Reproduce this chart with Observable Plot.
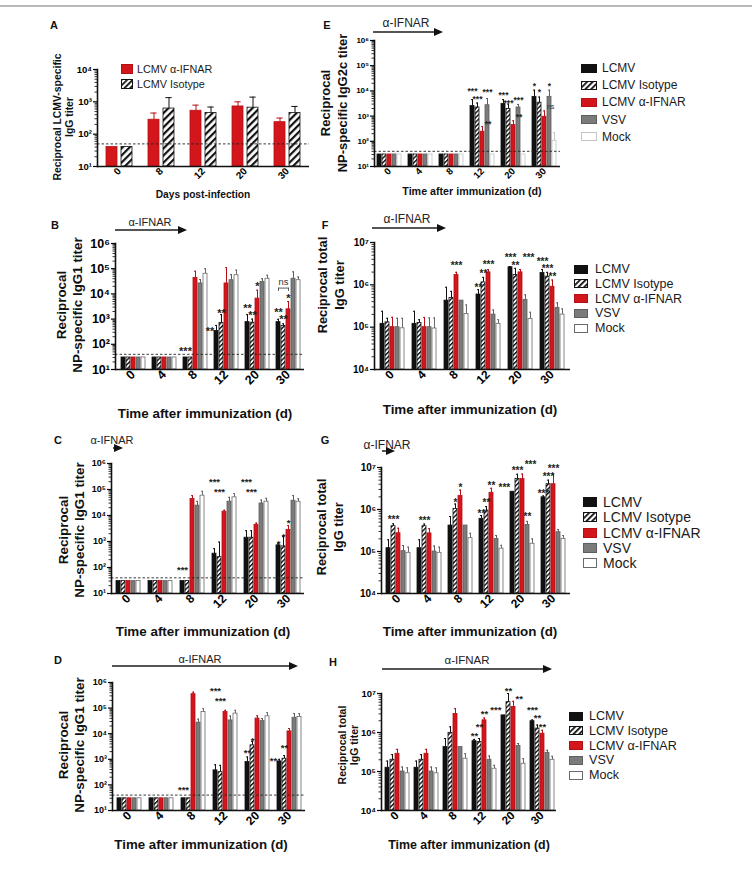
<!DOCTYPE html>
<html>
<head>
<meta charset="utf-8">
<script src="https://cdn.jsdelivr.net/npm/d3@7"></script>
<script src="https://cdn.jsdelivr.net/npm/@observablehq/plot@0.6"></script>
<style>
  html, body { margin: 0; padding: 0; background: #fff; }
  #fig { position: relative; width: 752px; height: 869px; overflow: hidden; background: #fff; }
</style>
</head>
<body>
<div id="fig"></div>
<script>
// ---------- categories ----------
const days = ["0", "4", "8", "12", "20", "30"];
const daysA = ["0", "8", "12", "20", "30"];
const groups = ["LCMV", "LCMV Isotype", "LCMV α-IFNAR", "VSV", "Mock"];
const groupsA = ["LCMV α-IFNAR", "LCMV Isotype"];

// ---------- A: LCMV-specific IgG (rows follow groupsA) ----------
const titerA = [
  [40, 280, 530, 720, 235],
  [40, 620, 450, 660, 450]
];
const errA = [
  [null, 450, 790, 1000, 315],
  [null, 1350, 690, 1400, 720]
];

// ---------- B: NP-specific IgG1 (rows follow groups) ----------
const titerB = [
  [30, 30, 30, 340, 760, 760],
  [30, 30, 30, 700, 720, 530],
  [30, 30, 43000, 26000, 6500, 2450],
  [30, 30, 26000, 35000, 30000, 40000],
  [30, 30, 63000, 55000, 40000, 35000]
];
const errB = [
  [null, null, null, 560, 1500, 980],
  [null, null, null, 1500, 1000, 650],
  [null, null, 79000, 110000, 14000, 5000],
  [null, null, 37000, 58000, 40000, 75000],
  [null, null, 100000, 88000, 55000, 47000]
];

// ---------- C: NP-specific IgG1 ----------
const titerC = [
  [30, 30, 30, 340, 1400, 710],
  [30, 30, 30, 250, 1400, 650],
  [30, 30, 43000, 14000, 4400, 2800],
  [30, 30, 24000, 34000, 29000, 37000],
  [30, 30, 58000, 50000, 34000, 34000]
];
const errC = [
  [null, null, null, 530, 2600, 820],
  [null, null, null, 950, 2600, 1550],
  [null, null, 58000, 16000, 5100, 4100],
  [null, null, 35000, 50000, 39000, 58000],
  [null, null, 85000, 70000, 46000, 44000]
];

// ---------- D: NP-specific IgG1 ----------
const titerD = [
  [30, 30, 30, 370, 780, 830],
  [30, 30, 30, 315, 3500, 1050],
  [30, 30, 350000, 70000, 39000, 12300],
  [30, 30, 27000, 33000, 31000, 42000],
  [30, 30, 70000, 61000, 48000, 45000]
];
const errD = [
  [null, null, null, 610, 1230, 1000],
  [null, null, null, 580, 5000, 1400],
  [null, null, 420000, 82000, 50000, 16000],
  [null, null, 37000, 49000, 39000, 61000],
  [null, null, 95000, 82000, 66000, 61000]
];

// ---------- E: NP-specific IgG2c ----------
const titerE = [
  [30, 30, 30, 2500, 3000, 5800],
  [30, 30, 30, 2200, 1900, 3400],
  [30, 30, 30, 240, 440, 940],
  [30, 30, 30, 2700, 2200, 5800],
  [30, 30, 30, 30, 30, 105]
];
const errE = [
  [null, null, null, 4500, 4500, 10700],
  [null, null, null, 3300, 3000, 5700],
  [null, null, null, 380, 650, 1600],
  [null, null, null, 5000, 2900, 10700],
  [null, null, null, null, null, 220]
];

// ---------- F: total IgG ----------
const titerF = [
  [120000, 120000, 424000, 590000, 2.6e6, 1.9e6],
  [130000, 125000, 490000, 1.14e6, 1.7e6, 1.56e6],
  [100000, 100000, 1.7e6, 1.97e6, 1.97e6, 900000],
  [100000, 100000, 424000, 198000, 440000, 285000],
  [94000, 93000, 205000, 120000, 157000, 198000]
];
const errF = [
  [237000, 237000, 875000, 770000, 2.7e6, 2.3e6],
  [162000, 150000, 700000, 1.5e6, 2.45e6, 1.97e6],
  [171000, 170000, 1.98e6, 2.3e6, 2.3e6, 1.3e6],
  [162000, 165000, null, 255000, 580000, 375000],
  [162000, 165000, 335000, 150000, 225000, 270000]
];

// ---------- G: total IgG ----------
const titerG = [
  [120000, 120000, 415000, 600000, 2.65e6, 1.95e6],
  [400000, 400000, 1.03e6, 940000, 5.3e6, 4e6],
  [272000, 270000, 2.1e6, 2.5e6, 5.3e6, 4e6],
  [102000, 100000, 415000, 200000, 430000, 288000],
  [93000, 93000, 208000, 117000, 153000, 200000]
];
const errG = [
  [190000, 190000, 680000, 720000, null, 2.1e6],
  [455000, 450000, 1.35e6, 1.17e6, 6.9e6, 5e6],
  [358000, 350000, 2.9e6, 3.2e6, 7e6, 6.9e6],
  [139000, 135000, null, 240000, 520000, 333000],
  [127000, 127000, 272000, 140000, 200000, 240000]
];

// ---------- H: total IgG ----------
const titerH = [
  [125000, 125000, 425000, 600000, 2.75e6, 1.95e6],
  [200000, 200000, 980000, 570000, 6e6, 1.26e6],
  [285000, 285000, 3e6, 2.05e6, 4.5e6, 930000],
  [100000, 100000, 425000, 200000, 450000, 300000],
  [90000, 90000, 213000, 118000, 158000, 200000]
];
const errH = [
  [185000, 185000, 700000, 665000, null, 2.1e6],
  [270000, 270000, 1.4e6, 700000, 1e7, 1.55e6],
  [370000, 370000, 4.1e6, 2.35e6, 6.3e6, 1.14e6],
  [130000, 130000, null, 250000, 520000, 350000],
  [124000, 124000, 285000, 144000, 213000, 245000]
];

// ---------- significance marks: [day, group, text, titer where it sits, side] ----------
const starsB = [
  ["8", "LCMV", "***", 66, "c"],
  ["12", "LCMV", "**", 420, "l"],
  ["12", "LCMV Isotype", "**", 2300, "c"],
  ["20", "LCMV", "**", 3500, "c"],
  ["20", "LCMV Isotype", "**", 1800, "c"],
  ["20", "LCMV α-IFNAR", "*", 26000, "c"],
  ["30", "LCMV", "**", 2400, "c"],
  ["30", "LCMV Isotype", "**", 1300, "c"],
  ["30", "LCMV α-IFNAR", "*", 8700, "c"],
  ["30", "LCMV Isotype", "ns", 30000, "c"]
];
const bracketsB = [["30", "LCMV", "LCMV α-IFNAR", 17000]];
const starsC = [
  ["8", "LCMV", "***", 100, "c"],
  ["12", "LCMV", "***", 250000, "c"],
  ["12", "LCMV Isotype", "***", 105000, "c"],
  ["20", "LCMV", "***", 250000, "c"],
  ["20", "LCMV Isotype", "***", 105000, "c"],
  ["30", "LCMV", "*", 1050, "c"],
  ["30", "LCMV Isotype", "*", 1900, "c"],
  ["30", "LCMV α-IFNAR", "*", 6700, "c"]
];
const starsD = [
  ["8", "LCMV", "***", 82, "c"],
  ["12", "LCMV", "***", 620000, "c"],
  ["12", "LCMV Isotype", "***", 250000, "c"],
  ["20", "LCMV", "**", 2240, "c"],
  ["20", "LCMV Isotype", "*", 6500, "c"],
  ["30", "LCMV", "**", 1100, "l"],
  ["30", "LCMV Isotype", "**", 3500, "c"]
];
const starsE = [
  ["12", "LCMV", "***", 12300, "c"],
  ["12", "LCMV Isotype", "***", 5750, "c"],
  ["12", "LCMV α-IFNAR", "**", 600, "r"],
  ["12", "VSV", "***", 11200, "c"],
  ["20", "LCMV", "***", 8300, "c"],
  ["20", "LCMV Isotype", "***", 4000, "c"],
  ["20", "LCMV α-IFNAR", "**", 1100, "r"],
  ["20", "VSV", "***", 5500, "c"],
  ["30", "LCMV", "*", 18200, "c"],
  ["30", "LCMV Isotype", "*", 11200, "c"],
  ["30", "LCMV α-IFNAR", "ns", 2300, "r"],
  ["30", "VSV", "*", 18200, "c"]
];
const starsF = [
  ["8", "LCMV α-IFNAR", "***", 3.2e6, "c"],
  ["12", "LCMV", "**", 1e6, "c"],
  ["12", "LCMV Isotype", "**", 2.1e6, "c"],
  ["12", "LCMV α-IFNAR", "***", 3.4e6, "c"],
  ["20", "LCMV", "***", 5e6, "c"],
  ["20", "LCMV Isotype", "**", 3.2e6, "c"],
  ["20", "LCMV α-IFNAR", "***", 5e6, "r"],
  ["30", "LCMV", "***", 4.1e6, "c"],
  ["30", "LCMV Isotype", "***", 2.75e6, "c"],
  ["30", "LCMV α-IFNAR", "**", 1.8e6, "c"]
];
const starsG = [
  ["0", "LCMV Isotype", "***", 680000, "c"],
  ["4", "LCMV Isotype", "***", 630000, "c"],
  ["8", "LCMV Isotype", "*", 1.7e6, "c"],
  ["8", "LCMV α-IFNAR", "*", 3.9e6, "c"],
  ["12", "LCMV", "**", 900000, "c"],
  ["12", "LCMV Isotype", "**", 1.7e6, "c"],
  ["12", "LCMV α-IFNAR", "**", 4.2e6, "c"],
  ["20", "LCMV", "***", 3.9e6, "l"],
  ["20", "LCMV Isotype", "***", 1e7, "c"],
  ["20", "LCMV α-IFNAR", "***", 1.35e7, "r"],
  ["20", "VSV", "**", 800000, "c"],
  ["30", "LCMV", "***", 2.8e6, "c"],
  ["30", "LCMV Isotype", "***", 6.9e6, "c"],
  ["30", "LCMV α-IFNAR", "***", 1.1e7, "c"]
];
const starsH = [
  ["12", "LCMV", "**", 980000, "c"],
  ["12", "LCMV Isotype", "**", 1.6e6, "c"],
  ["12", "LCMV α-IFNAR", "**", 3.4e6, "c"],
  ["20", "LCMV", "***", 4.4e6, "l"],
  ["20", "LCMV Isotype", "**", 1.35e7, "c"],
  ["20", "LCMV α-IFNAR", "**", 8.3e6, "r"],
  ["30", "LCMV", "***", 4.4e6, "c"],
  ["30", "LCMV Isotype", "**", 2.7e6, "c"],
  ["30", "LCMV α-IFNAR", "**", 1.6e6, "c"]
];

// ---------- styling ----------
const FONT = "'Liberation Sans', Arial, Helvetica, sans-serif";
const STYLE = {
  "LCMV": {fill: "#111", stroke: "#111"},
  "LCMV Isotype": {fill: "hatch", stroke: "#111"},
  "LCMV α-IFNAR": {fill: "#d3161c", stroke: "#b51016"},
  "VSV": {fill: "#7b7b7b", stroke: "#5e5e5e"},
  "Mock": {fill: "#fff", stroke: "#6a6a6a"}
};
const SUP = "⁰¹²³⁴⁵⁶⁷⁸⁹";
const pow10 = v => "10" + SUP[Math.round(Math.log10(v))];
const fig = document.getElementById("fig");

function logTicks(lo, hi) {
  const a = Math.round(Math.log10(lo)), b = Math.round(Math.log10(hi));
  const majors = d3.range(a, b + 1).map(e => 10 ** e);
  const minors = d3.range(a, b).flatMap(e => d3.range(2, 10).map(m => m * 10 ** e));
  return {majors, minors};
}

function patternMarkup(id, size, stripe) {
  return `<pattern id="${id}" patternUnits="userSpaceOnUse" width="${size}" height="${size}" patternTransform="rotate(45)">` +
    `<rect width="${size}" height="${size}" fill="#fff"/><rect width="${stripe}" height="${size}" fill="#111"/></pattern>`;
}

function addPattern(svg, id, size, stripe) {
  const defs = document.createElementNS("http://www.w3.org/2000/svg", "defs");
  defs.innerHTML = patternMarkup(id, size, stripe);
  svg.insertBefore(defs, svg.firstChild);
}

function panel(p) {
  const W = p.right - p.left, H = p.bottom - p.top;
  const M = {l: 36, r: 8, t: 12, b: 30};
  const dims = {width: W + M.l + M.r, height: H + M.t + M.b, marginLeft: M.l, marginRight: M.r, marginTop: M.t, marginBottom: M.b};
  const css = `position:absolute;left:${p.left - M.l}px;top:${p.top - M.t}px;background:none;max-width:none;overflow:visible;font-family:${FONT};`;
  const step = W / p.days.length;
  const groupW = step * (1 - p.pad);
  const bw = groupW / (p.groups.length - p.barPad) * (1 - p.barPad);
  const rows = p.groups.flatMap((g, gi) => p.days.map((d, di) => ({day: d, group: g, value: p.titer[gi][di], err: p.err[gi][di]})));
  const hatchId = `hatch-${p.id}`;

  const marks = [];
  for (const g of p.groups) {
    const s = STYLE[g];
    const stroke = g === "Mock" && p.mockStroke ? p.mockStroke : s.stroke;
    const gr = rows.filter(r => r.group === g);
    const withErr = gr.filter(r => r.err != null);
    marks.push(Plot.ruleX(withErr, {fx: "day", x: "group", y1: "value", y2: "err", stroke, strokeWidth: 1}));
    marks.push(Plot.tickY(withErr, {fx: "day", x: "group", y: "err", stroke, strokeWidth: 1, insetLeft: bw * 0.22, insetRight: bw * 0.22}));
    marks.push(Plot.barY(gr, {
      fx: "day", x: "group", y1: () => p.lo, y2: "value",
      fill: s.fill === "hatch" ? `url(#${hatchId})` : s.fill,
      stroke, strokeWidth: 0.8
    }));
  }

  // significance labels sit centred on a bar, or just to its left/right
  const stars = (p.stars || []).map(([day, group, text, at, side]) => ({day, group, text, at, side}));
  const sides = {c: {textAnchor: "middle", dx: 0}, l: {textAnchor: "end", dx: -bw / 2}, r: {textAnchor: "start", dx: bw / 2}};
  for (const side of Object.keys(sides)) {
    const ast = stars.filter(s => s.side === side && s.text.includes("*"));
    const other = stars.filter(s => s.side === side && !s.text.includes("*"));
    marks.push(Plot.text(ast, {fx: "day", x: "group", y: "at", text: "text", fontSize: p.starSize, fontWeight: "bold", dy: p.starSize * 0.28, fill: "#222", ...sides[side]}));
    marks.push(Plot.text(other, {fx: "day", x: "group", y: "at", text: "text", fontSize: p.starSize * 0.85, fill: "#333", ...sides[side]}));
  }
  if (p.brackets) {
    const br = p.brackets.map(([day, a, b, at]) => ({day, a, b, at}));
    const ends = br.flatMap(d => [{day: d.day, group: d.a, at: d.at}, {day: d.day, group: d.b, at: d.at}]);
    marks.push(Plot.link(br, {fx: "day", x1: "a", x2: "b", y1: "at", y2: "at", stroke: "#333", strokeWidth: 0.8}));
    marks.push(Plot.ruleX(ends, {fx: "day", x: "group", y1: "at", y2: d => d.at / 1.35, stroke: "#333", strokeWidth: 0.8}));
  }

  const bars = Plot.plot({
    ...dims, style: css,
    fx: {domain: p.days, paddingInner: p.pad, paddingOuter: p.pad / 2, axis: null, label: null},
    x: {domain: p.groups, paddingInner: p.barPad, paddingOuter: 0, axis: null, label: null},
    y: {type: "log", domain: [p.lo, p.hi], axis: null},
    marks
  });
  addPattern(bars, hatchId, p.hatch[0], p.hatch[1]);
  fig.appendChild(bars);

  // axes, baseline and detection limit
  const {majors, minors} = logTicks(p.lo, p.hi);
  const axisMarks = [];
  if (p.limit) axisMarks.push(Plot.ruleY([p.limit], {stroke: "#222", strokeWidth: 0.9, strokeDasharray: "2.5,2"}));
  axisMarks.push(
    Plot.axisY({ticks: minors, tickSize: 2.5, tickFormat: () => "", strokeWidth: 0.8, label: null}),
    Plot.axisY({ticks: majors, tickSize: 4, tickPadding: 1.5, tickFormat: pow10, fontSize: p.yTick, fontWeight: "bold", strokeWidth: 1.2, label: null}),
    Plot.axisX(p.days, {tickRotate: -45, tickSize: 0, tickPadding: 3, fontSize: p.xTick, fontWeight: "bold", label: null}),
    Plot.ruleY([p.lo], {stroke: "#111", strokeWidth: 1.6}),
    Plot.frame({anchor: "left", stroke: "#111", strokeWidth: 1.6})
  );
  const axes = Plot.plot({
    ...dims, style: css,
    x: {type: "band", domain: p.days, paddingInner: p.pad, paddingOuter: p.pad / 2},
    y: {type: "log", domain: [p.lo, p.hi]},
    marks: axisMarks
  });
  fig.appendChild(axes);
}

// ---------- HTML annotations ----------
function label(text, x, y, o = {}) {
  const el = document.createElement("div");
  el.textContent = text;
  const tx = o.anchor === "start" ? "0" : o.anchor === "end" ? "-100%" : "-50%";
  el.style.cssText = `position:absolute;left:${x}px;top:${y}px;white-space:nowrap;line-height:1;` +
    `font-family:${FONT};font-size:${o.size || 12}px;font-weight:${o.weight || "bold"};color:${o.color || "#111"};` +
    `transform:translate(${tx},-50%)${o.rotate ? ` rotate(${o.rotate}deg)` : ""};`;
  fig.appendChild(el);
}

function arrow(x1, x2, y) {
  const head = 9;
  if (x2 - x1 > head) {
    const line = document.createElement("div");
    line.style.cssText = `position:absolute;left:${x1}px;top:${y - 0.75}px;width:${x2 - x1 - head + 1}px;height:1.5px;background:#555;`;
    fig.appendChild(line);
  }
  const tip = document.createElement("div");
  tip.style.cssText = `position:absolute;left:${x2 - head}px;top:${y - 4}px;width:0;height:0;border-left:${head}px solid #111;border-top:4px solid transparent;border-bottom:4px solid transparent;`;
  fig.appendChild(tip);
}

function legend(items, x, y0, dy, sw, sh, textX, size, id, mockStroke) {
  items.forEach((g, i) => {
    const s = STYLE[g];
    const stroke = g === "Mock" && mockStroke ? mockStroke : s.stroke;
    const y = y0 + i * dy;
    const box = document.createElement("div");
    box.style.cssText = `position:absolute;left:${x}px;top:${y - sh / 2}px;width:${sw}px;height:${sh}px;`;
    const pid = `${id}-${i}`;
    box.innerHTML = `<svg width="${sw}" height="${sh}" style="display:block;overflow:visible"><defs>${patternMarkup(pid, 4, 1.8)}</defs>` +
      `<rect x="0.5" y="0.5" width="${sw - 1}" height="${sh - 1}" fill="${s.fill === "hatch" ? `url(#${pid})` : s.fill}" stroke="${stroke}" stroke-width="1"/></svg>`;
    fig.appendChild(box);
    label(g, textX, y, {size, weight: "normal", anchor: "start", color: "#1a1a1a"});
  });
}

// ---------- page frame line ----------
const rule = document.createElement("div");
rule.style.cssText = "position:absolute;left:0;top:5px;width:752px;height:1.5px;background:#b9b9b9;";
fig.appendChild(rule);

// ---------- panels ----------
panel({id: "A", days: daysA, groups: groupsA, titer: titerA, err: errA, left: 97, right: 309, top: 69, bottom: 166,
  lo: 10, hi: 1e4, pad: 0.39, barPad: 0.3, limit: 50, yTick: 9.5, xTick: 10, starSize: 9, hatch: [5, 2.2]});
panel({id: "B", days, groups, titer: titerB, err: errB, stars: starsB, brackets: bracketsB, left: 115, right: 304, top: 243, bottom: 369,
  lo: 10, hi: 1e6, pad: 0.13, barPad: 0.2, limit: 40, yTick: 12.5, xTick: 12.5, starSize: 11, hatch: [3.2, 1.4]});
panel({id: "C", days, groups, titer: titerC, err: errC, stars: starsC, left: 111, right: 304, top: 463, bottom: 593,
  lo: 10, hi: 1e6, pad: 0.13, barPad: 0.2, limit: 40, yTick: 9, xTick: 12, starSize: 9.5, hatch: [3.2, 1.4]});
panel({id: "D", days, groups, titer: titerD, err: errD, stars: starsD, left: 112, right: 305, top: 682, bottom: 810,
  lo: 10, hi: 1e6, pad: 0.13, barPad: 0.2, limit: 40, yTick: 9, xTick: 12, starSize: 9.5, hatch: [3.2, 1.4]});
panel({id: "E", days, groups, titer: titerE, err: errE, stars: starsE, left: 374, right: 560, top: 40, bottom: 166,
  lo: 10, hi: 1e6, pad: 0.15, barPad: 0.2, limit: 40, yTick: 8, xTick: 9.5, starSize: 8.5, hatch: [3.2, 1.4], mockStroke: "#c4c4c4"});
panel({id: "F", days, groups, titer: titerF, err: errF, stars: starsF, left: 374, right: 570, top: 242, bottom: 369,
  lo: 1e4, hi: 1e7, pad: 0.15, barPad: 0.2, yTick: 10, xTick: 12, starSize: 10, hatch: [3.2, 1.4]});
panel({id: "G", days, groups, titer: titerG, err: errG, stars: starsG, left: 381, right: 570, top: 467, bottom: 593,
  lo: 1e4, hi: 1e7, pad: 0.15, barPad: 0.2, yTick: 10, xTick: 12, starSize: 10, hatch: [3.2, 1.4]});
panel({id: "H", days, groups, titer: titerH, err: errH, stars: starsH, left: 381, right: 556, top: 693, bottom: 810,
  lo: 1e4, hi: 1e7, pad: 0.15, barPad: 0.2, yTick: 9.5, xTick: 11.5, starSize: 9.5, hatch: [3.2, 1.4]});

// panel letters
label("A", 54, 25, {size: 11}); label("B", 55, 225, {size: 11}); label("C", 58, 440, {size: 11}); label("D", 58, 660, {size: 11});
label("E", 327, 25, {size: 11}); label("F", 325, 225, {size: 11}); label("G", 325, 440, {size: 11}); label("H", 333, 662, {size: 11});

// y titles
label("Reciprocal LCMV-specific", 58, 117, {size: 10.4, rotate: -90});
label("IgG titer", 70, 117, {size: 10.4, rotate: -90});
for (const [x1, x2, cy] of [[62, 78, 305], [64, 80, 530], [64, 80, 745]]) {
  label("Reciprocal", x1, cy, {size: 13.4, rotate: -90});
  label("NP-specific IgG1 titer", x2, cy, {size: 13.4, rotate: -90});
}
label("Reciprocal", 325, 103, {size: 13, rotate: -90});
label("NP-specific IgG2c titer", 342, 103, {size: 13, rotate: -90});
for (const [x1, x2, cy, s] of [[323, 340, 285, 12.9], [322, 339, 527, 12.9], [342, 354, 745, 10.5]]) {
  label("Reciprocal total", x1, cy, {size: s, rotate: -90});
  label("IgG titer", x2, cy, {size: s, rotate: -90});
}

// x titles
label("Days post-infection", 203, 195, {size: 10.2});
label("Time after immunization (d)", 205, 414, {size: 13.4});
label("Time after immunization (d)", 203, 632, {size: 13.4});
label("Time after immunization (d)", 201, 845, {size: 13.3});
label("Time after immunization (d)", 472, 191, {size: 10.7});
label("Time after immunization (d)", 470, 410, {size: 13.4});
label("Time after immunization (d)", 470, 632, {size: 13.4});
label("Time after immunization (d)", 469, 845, {size: 12.4});

// treatment period
label("α-IFNAR", 150, 222, {size: 11, weight: "normal", color: "#222"}); arrow(115, 187, 230);
label("α-IFNAR", 112, 440, {size: 11, weight: "normal", color: "#222"}); arrow(113, 123, 448);
label("α-IFNAR", 200, 659, {size: 11, weight: "normal", color: "#222"}); arrow(112, 298, 666);
label("α-IFNAR", 406, 23, {size: 12, weight: "normal", color: "#222"}); arrow(373, 443, 32);
label("α-IFNAR", 407, 219, {size: 12, weight: "normal", color: "#222"}); arrow(372, 446, 228);
label("α-IFNAR", 387, 445, {size: 12, weight: "normal", color: "#222"}); arrow(382, 395, 451);
label("α-IFNAR", 467, 661, {size: 11.5, weight: "normal", color: "#222"}); arrow(382, 552, 669);

// legends
legend(groupsA, 121, 69, 15, 12, 10, 137, 10.8, "lgA");
legend(groups, 581, 68, 17.2, 16, 9, 602, 12, "lgE", "#c4c4c4");
legend(groups, 574, 269, 14.8, 14, 9, 595, 12.5, "lgF");
legend(groups, 583, 502, 15.3, 14, 10, 603, 14, "lgG");
legend(groups, 569, 716, 14.8, 14, 9, 589, 12.6, "lgH");
</script>
</body>
</html>
